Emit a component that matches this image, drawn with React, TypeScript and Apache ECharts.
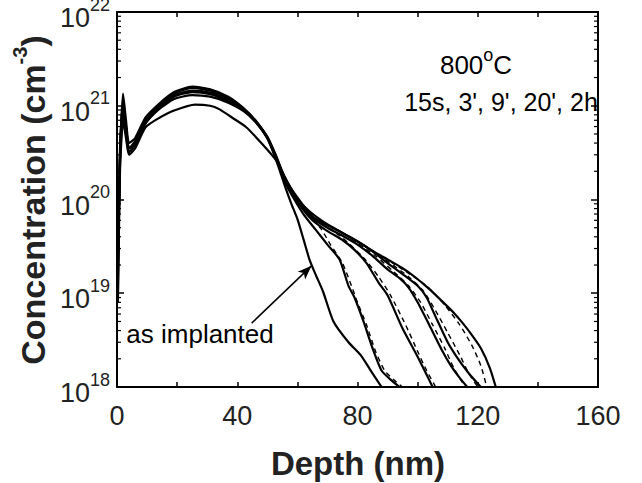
import React, { useEffect, useRef } from 'react';
import * as echarts from 'echarts';

// ---- Data (depth in nm, concentration in cm^-3) ----
const depthAI = [0.3, 1, 2, 3, 4, 6, 9.5, 14, 19, 25, 31, 37, 42, 46, 50, 53, 56, 58, 60, 62, 64, 66, 68.5, 72, 77, 81, 85, 88];
const concAI = [2e19, 3e20, 1.35e21, 7e20, 4e20, 4.5e20, 7.5e20, 1.05e21, 1.4e21, 1.6e21, 1.5e21, 1.25e21, 9.5e20, 7e20, 4.5e20, 2.6e20, 1.35e20, 9e19, 6.2e19, 3.8e19, 2.3e19, 1.6e19, 1.05e19, 5e18, 3e18, 2.2e18, 1.4e18, 1.0e18];

const depth15s = [0.3, 1, 2, 3, 4, 6, 9.5, 14, 19, 25, 31, 37, 42, 46, 50, 53, 56, 59, 62, 66, 70, 74, 77, 79, 82, 85, 88, 91, 94];
const conc15s = [3e19, 3.5e20, 1.0e21, 6e20, 3.5e20, 4.2e20, 7e20, 1.0e21, 1.35e21, 1.55e21, 1.45e21, 1.2e21, 9.3e20, 7e20, 4.6e20, 2.7e20, 1.5e20, 1.0e20, 7e19, 4.8e19, 3.3e19, 2.3e19, 1.2e19, 9e18, 5e18, 2.6e18, 1.5e18, 1.2e18, 1.0e18];

const depth3m = [0.3, 1, 2, 3, 4, 6, 9.5, 14, 19, 25, 31, 37, 42, 46, 50, 53, 56, 60, 65, 70, 75, 79, 83, 87, 90, 95, 100, 103, 105];
const conc3m = [2e19, 3e20, 9e20, 5.5e20, 3.5e20, 4e20, 6.8e20, 9.8e20, 1.3e21, 1.45e21, 1.38e21, 1.15e21, 9e20, 6.8e20, 4.5e20, 2.8e20, 1.6e20, 9.5e19, 6e19, 4.6e19, 3.7e19, 2.9e19, 2.1e19, 1.3e19, 9.5e18, 4.2e18, 2.1e18, 1.35e18, 1.0e18];

const depth9m = [0.3, 1, 2, 3, 4, 6, 9.5, 14, 19, 25, 31, 37, 42, 46, 50, 53, 56, 60, 65, 70, 75, 80, 85, 90, 94, 97, 100, 104, 108, 111, 114, 116.5];
const conc9m = [1.5e19, 2.5e20, 8e20, 5e20, 3.2e20, 3.8e20, 6.5e20, 9.5e20, 1.25e21, 1.4e21, 1.33e21, 1.12e21, 9e20, 6.8e20, 4.6e20, 2.8e20, 1.6e20, 1.0e20, 6.3e19, 5e19, 4.1e19, 3.3e19, 2.5e19, 1.8e19, 1.45e19, 1.15e19, 8e18, 4.5e18, 2.5e18, 1.7e18, 1.25e18, 1.0e18];

const depth20m = [0.3, 1, 2, 3, 4, 6, 9.5, 14, 19, 25, 31, 37, 42, 46, 50, 53, 56, 60, 65, 70, 75, 80, 85, 90, 95, 100, 103, 106, 110, 113, 117, 121];
const conc20m = [1e19, 3e20, 1.1e21, 6e20, 3.5e20, 4e20, 6.5e20, 9.2e20, 1.18e21, 1.3e21, 1.25e21, 1.08e21, 8.8e20, 6.8e20, 4.7e20, 2.9e20, 1.65e20, 1.05e20, 6.6e19, 5.3e19, 4.4e19, 3.6e19, 2.8e19, 2.1e19, 1.6e19, 1.2e19, 9e18, 5.6e18, 3e18, 2.1e18, 1.4e18, 1.0e18];

const depth2h = [0.3, 1, 2, 3, 4, 6, 9.5, 14, 19, 26, 31, 34, 38.5, 43, 48, 53, 56, 60, 64, 68, 72, 76, 81, 86, 90, 95, 99, 104, 108, 112, 115, 118, 121, 124, 126];
const conc2h = [8e18, 2e20, 7e20, 4.5e20, 3e20, 3.5e20, 5.9e20, 7.4e20, 8.9e20, 1.03e21, 1.0e21, 9.2e20, 7.4e20, 5.9e20, 4e20, 2.6e20, 1.7e20, 1.0e20, 7.5e19, 6e19, 5e19, 4.2e19, 3.4e19, 2.7e19, 2.3e19, 1.85e19, 1.5e19, 1.1e19, 8.3e18, 6.2e18, 4.8e18, 3.6e18, 2.6e18, 1.6e18, 1.0e18];

// simulated (dashed) profiles, tail region
const depth15sSim = [60, 64, 68, 71, 75, 78, 80, 83, 86, 89, 92, 95];
const conc15sSim = [1.05e20, 6.8e19, 4.8e19, 3.3e19, 2.1e19, 1.2e19, 8e18, 4.6e18, 2.4e18, 1.5e18, 1.2e18, 1.0e18];
const depth3mSim = [68, 75, 82, 87, 91, 96, 100, 103, 106];
const conc3mSim = [5.6e19, 3.9e19, 2.4e19, 1.5e19, 9.5e18, 4.6e18, 2.4e18, 1.5e18, 1.0e18];
const depth9mSim = [78, 86, 92, 97, 101, 105, 109, 112, 115, 116];
const conc9mSim = [3.8e19, 2.5e19, 1.7e19, 1.2e19, 8e18, 4.6e18, 2.6e18, 1.6e18, 1.1e18, 1.0e18];
const depth20mSim = [82, 90, 97, 102, 106, 110, 114, 117, 120];
const conc20mSim = [3.3e19, 2.2e19, 1.5e19, 1.05e19, 6.5e18, 3.8e18, 2.2e18, 1.4e18, 1.0e18];
const depth2hSim = [86, 95, 103, 109, 114, 118, 121, 123];
const conc2hSim = [2.7e19, 1.8e19, 1.2e19, 7.5e18, 4.6e18, 2.8e18, 1.7e18, 1.0e18];

// axes
const xLabelValues = [0, 40, 80, 120, 160];
const yDecades = [18, 19, 20, 21, 22];
const minorMultipliers = [2, 3, 4, 5, 6, 7, 8, 9];

// annotation arrow (data coordinates)
const arrowFrom = [44.8, 4.8e18];
const arrowTo = [64.7, 1.96e19];

const pairs = (x: number[], y: number[]) => x.map((v, i) => [v, y[i]]);

const FONT = '"Liberation Sans", Arial, Helvetica, sans-serif';

export default function App() {
  const ref = useRef<HTMLDivElement>(null);
  useEffect(() => {
    document.body.style.margin = '0';
    const chart = echarts.init(ref.current!, null, { renderer: 'svg' });

    const solid = (name: string, x: number[], y: number[], extra: any = {}) => ({
      type: 'line',
      name,
      data: pairs(x, y),
      showSymbol: false,
      symbol: 'none',
      smooth: 0.2,
      silent: true,
      lineStyle: { color: '#000', width: 2.2 },
      z: 3,
      ...extra,
    });
    const dashed = (name: string, x: number[], y: number[]) => ({
      type: 'line',
      name,
      data: pairs(x, y),
      showSymbol: false,
      symbol: 'none',
      smooth: 0.2,
      silent: true,
      lineStyle: { color: '#000', width: 1.4, type: [5, 4] },
      z: 2,
    });

    const axisLine = { show: true, onZero: false, lineStyle: { color: '#000', width: 2 } };

    const textGraphics: any[] = [
      {
        type: 'text',
        x: 30,
        y: 200,
        rotation: Math.PI / 2,
        style: {
          text: '{t|Concentration (cm}{s|-3}{t|)}',
          align: 'center',
          verticalAlign: 'middle',
          fill: '#222',
          rich: {
            t: { fontSize: 34, fontWeight: 'bold', fontFamily: FONT, lineHeight: 40, verticalAlign: 'bottom', fill: '#222' },
            s: { fontSize: 20, fontWeight: 'bold', fontFamily: FONT, lineHeight: 24, verticalAlign: 'top', fill: '#222' },
          },
        },
      },
      {
        type: 'text',
        x: 358,
        y: 463,
        style: {
          text: 'Depth (nm)',
          align: 'center',
          verticalAlign: 'middle',
          fill: '#222',
          font: 'bold 33px ' + FONT,
        },
      },
      {
        type: 'text',
        x: 476,
        y: 62,
        style: {
          text: '{n|800}{s|o}{n|C}',
          align: 'center',
          verticalAlign: 'middle',
          fill: '#000',
          rich: {
            n: { fontSize: 26, fontFamily: FONT, lineHeight: 32, verticalAlign: 'bottom', fill: '#000' },
            s: { fontSize: 18, fontFamily: FONT, lineHeight: 18, verticalAlign: 'top', fill: '#000' },
          },
        },
      },
      {
        type: 'text',
        x: 501,
        y: 102,
        style: {
          text: "15s, 3', 9', 20', 2h",
          align: 'center',
          verticalAlign: 'middle',
          fill: '#000',
          font: '25px ' + FONT,
        },
      },
      {
        type: 'text',
        x: 200,
        y: 334,
        style: {
          text: 'as implanted',
          align: 'center',
          verticalAlign: 'middle',
          fill: '#000',
          font: '26px ' + FONT,
        },
      },
    ];

    const option: any = {
      animation: false,
      grid: { left: 117, right: 44, top: 12, bottom: 96, containLabel: false, outerBoundsMode: 'none' },
      xAxis: [
        {
          type: 'value',
          min: 0,
          max: 160,
          interval: 20,
          position: 'bottom',
          axisLine,
          axisTick: { inside: true, length: 5, lineStyle: { color: '#000', width: 1.5 } },
          axisLabel: {
            formatter: (v: number) => (xLabelValues.includes(v) ? String(v) : ''),
            fontSize: 27,
            color: '#222',
            fontFamily: FONT,
            margin: 15,
          },
          splitLine: { show: false },
        },
        {
          type: 'value',
          min: 0,
          max: 160,
          interval: 20,
          position: 'top',
          axisLine,
          axisTick: { inside: true, length: 5, lineStyle: { color: '#000', width: 1.5 } },
          axisLabel: { show: false },
          splitLine: { show: false },
        },
      ],
      yAxis: [
        {
          type: 'log',
          logBase: 10,
          min: Math.pow(10, yDecades[0]),
          max: Math.pow(10, yDecades[yDecades.length - 1]),
          splitNumber: 4,
          position: 'left',
          axisLine,
          axisTick: { inside: true, length: 7, lineStyle: { color: '#000', width: 1.5 } },
          axisLabel: {
            formatter: (v: number) => `{b|10}{s|${Math.round(Math.log10(v))}}`,
            margin: 7,
            padding: [3, 0, 0, 0],
            rich: {
              b: { fontSize: 27, fontFamily: FONT, color: '#222', lineHeight: 36, verticalAlign: 'bottom' },
              s: { fontSize: 18, fontFamily: FONT, color: '#222', lineHeight: 26, verticalAlign: 'top' },
            },
          },
          splitLine: { show: false },
        },
        {
          type: 'log',
          logBase: 10,
          min: Math.pow(10, yDecades[0]),
          max: Math.pow(10, yDecades[yDecades.length - 1]),
          splitNumber: 4,
          position: 'right',
          axisLine,
          axisTick: { inside: true, length: 7, lineStyle: { color: '#000', width: 1.5 } },
          axisLabel: { show: false },
          splitLine: { show: false },
        },
      ],
      series: [
        solid('as implanted', depthAI, concAI, {
          markLine: {
            silent: true,
            symbol: ['none', 'arrow'],
            symbolSize: [8, 14],
            label: { show: false },
            lineStyle: { color: '#000', width: 1.5, type: 'solid' },
            data: [[{ coord: arrowFrom }, { coord: arrowTo }]],
          },
        }),
        solid('15s', depth15s, conc15s),
        solid("3'", depth3m, conc3m),
        solid("9'", depth9m, conc9m),
        solid("20'", depth20m, conc20m),
        solid('2h', depth2h, conc2h),
        dashed('15s sim', depth15sSim, conc15sSim),
        dashed("3' sim", depth3mSim, conc3mSim),
        dashed("9' sim", depth9mSim, conc9mSim),
        dashed("20' sim", depth20mSim, conc20mSim),
        dashed('2h sim', depth2hSim, conc2hSim),
      ],
      graphic: textGraphics,
    };
    chart.setOption(option);

    // log minor ticks on left and right axes, positioned through the axis scale
    const xl = chart.convertToPixel({ xAxisIndex: 0 }, 0) as number;
    const xr = chart.convertToPixel({ xAxisIndex: 0 }, 160) as number;
    const ticks: any[] = [];
    for (let d = yDecades[0]; d < yDecades[yDecades.length - 1]; d++) {
      for (const m of minorMultipliers) {
        const py = chart.convertToPixel({ yAxisIndex: 0 }, m * Math.pow(10, d)) as number;
        ticks.push({ type: 'line', shape: { x1: xl, y1: py, x2: xl + 4, y2: py }, style: { stroke: '#000', lineWidth: 1.2 }, silent: true });
        ticks.push({ type: 'line', shape: { x1: xr - 4, y1: py, x2: xr, y2: py }, style: { stroke: '#000', lineWidth: 1.2 }, silent: true });
      }
    }
    chart.setOption({ graphic: [...textGraphics, ...ticks] });

    return () => chart.dispose();
  }, []);
  return <div ref={ref} style={{ width: 642, height: 483 }} />;
}
